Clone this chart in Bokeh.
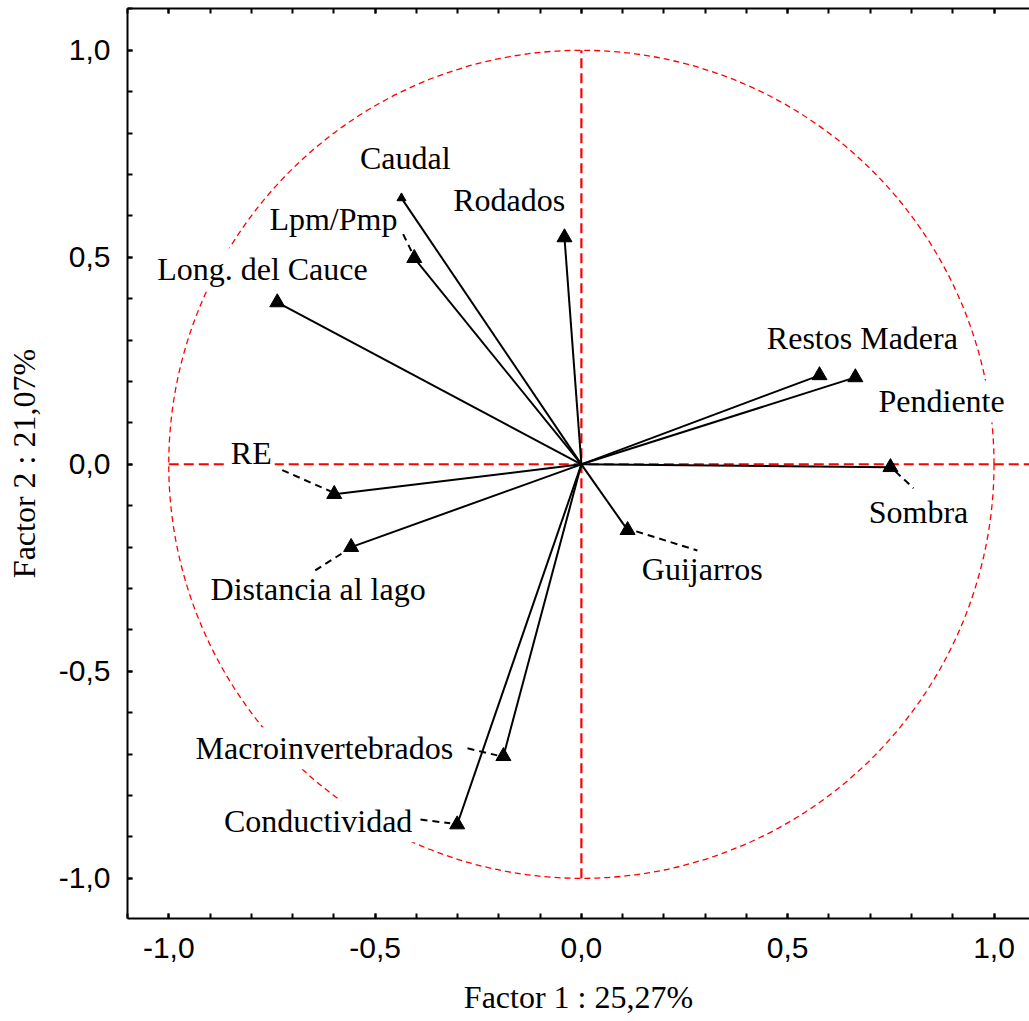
from bokeh.plotting import figure
from bokeh.models import (ColumnDataSource, LinearAxis, SingleIntervalTicker,
                          CustomJSTickFormatter, Range1d)
from bokeh.core.properties import value
from bokeh.embed import file_html
from bokeh.resources import INLINE

# Variable loadings on the first two factors
variables = ["Caudal", "Lpm/Pmp", "Rodados", "Long. del Cauce", "Restos Madera",
             "Pendiente", "Sombra", "Guijarros", "RE", "Distancia al lago",
             "Macroinvertebrados", "Conductividad"]
factor1 = [-0.436, -0.405, -0.041, -0.737, 0.577, 0.664, 0.749, 0.112,
           -0.599, -0.558, -0.189, -0.301]
factor2 = [0.643, 0.498, 0.548, 0.391, 0.215, 0.210, -0.007, -0.159,
           -0.072, -0.200, -0.705, -0.870]

x_title = "Factor 1 : 25,27%"
y_title = "Factor 2 : 21,07%"

# Label placement (data units) and leader lines for crowded labels
label_x = [-0.427, -0.601, -0.175, -0.773, 0.681, 0.873, 0.817, 0.293,
           -0.800, -0.638, -0.623, -0.638]
label_y = [0.739, 0.592, 0.638, 0.471, 0.304, 0.152, -0.114, -0.254,
           0.027, -0.302, -0.686, -0.862]
leaders = {
    "Lpm/Pmp": ((-0.432, 0.556), (-0.412, 0.515)),
    "RE": ((-0.725, -0.014), (-0.608, -0.065)),
    "Distancia al lago": ((-0.645, -0.256), (-0.572, -0.210)),
    "Sombra": ((0.761, -0.017), (0.805, -0.058)),
    "Guijarros": ((0.133, -0.162), (0.281, -0.208)),
    "Macroinvertebrados": ((-0.276, -0.686), (-0.204, -0.703)),
    "Conductividad": ((-0.390, -0.858), (-0.318, -0.867)),
}
marker_size = [9 if v == "Caudal" else 15 for v in variables]

RED = "#ff0000"
SERIF = "Liberation Serif"
SANS = "Liberation Sans"

p = figure(width=1029, height=1021, output_backend="svg", toolbar_location=None,
           x_range=Range1d(-1.10, 1.086), y_range=Range1d(-1.097, 1.101),
           x_axis_location=None, y_axis_location=None,
           min_border_left=127, min_border_right=0, min_border_top=8,
           min_border_bottom=103)
p.outline_line_color = None
p.grid.visible = False
p.background_fill_color = "white"

formatter = CustomJSTickFormatter(code="""
    if (Math.abs(tick) < 1e-9) { return "0,0"; }
    return tick.toFixed(1).replace('.', ',');
""")
blank = CustomJSTickFormatter(code="return '';")


def make_axis(fmt, title=None):
    ax = LinearAxis(ticker=SingleIntervalTicker(interval=0.5, num_minor_ticks=5),
                    formatter=fmt)
    ax.axis_line_width = 2
    ax.axis_line_color = "black"
    ax.major_tick_in = 5
    ax.major_tick_out = 0
    ax.minor_tick_in = 5
    ax.minor_tick_out = 0
    ax.major_tick_line_width = 2
    ax.minor_tick_line_width = 2
    ax.major_label_text_font = SANS
    ax.major_label_text_font_size = "30px"
    ax.major_label_text_color = "black"
    if title:
        ax.axis_label = title
        ax.axis_label_text_font = SERIF
        ax.axis_label_text_font_size = "32px"
        ax.axis_label_text_font_style = "normal"
        ax.axis_label_text_color = "black"
    return ax


bottom = make_axis(formatter, x_title)
bottom.major_label_standoff = 19
bottom.axis_label_standoff = 18
left = make_axis(formatter, y_title)
left.major_label_standoff = 17
left.axis_label_standoff = 14
top = make_axis(blank)
top.major_label_text_font_size = "0px"
top.major_label_standoff = 0
p.add_layout(bottom, "below")
p.add_layout(left, "left")
p.add_layout(top, "above")

# Unit circle and reference axes
p.ellipse(x=[0], y=[0], width=[2], height=[2], fill_color=None,
          line_color=RED, line_width=1.3, line_dash="6 4")
p.segment(x0=[-1.0], y0=[0], x1=[1.086], y1=[0], line_color=RED,
          line_width=2, line_dash="10 5")
p.segment(x0=[0], y0=[-1.0], x1=[0], y1=[1.0], line_color=RED,
          line_width=2.2, line_dash="10 5")

src = ColumnDataSource(dict(
    x0=[0.0] * len(variables), y0=[0.0] * len(variables),
    x=factor1, y=factor2, name=variables, lx=label_x, ly=label_y,
    size=marker_size))

# Variable labels with white boxes so they mask the dashed guides
p.text(x="lx", y="ly", text="name", source=src, text_font=value(SERIF),
       text_font_size="32px", text_color="black", text_align="center",
       text_baseline="middle", background_fill_color="white", padding=3)

# Leader lines from labels to their loadings
lx0 = [leaders[k][0][0] for k in leaders]
ly0 = [leaders[k][0][1] for k in leaders]
lx1 = [leaders[k][1][0] for k in leaders]
ly1 = [leaders[k][1][1] for k in leaders]
p.segment(x0=lx0, y0=ly0, x1=lx1, y1=ly1, line_color="black",
          line_width=2, line_dash="7 5")

# Loading vectors
p.segment(x0="x0", y0="y0", x1="x", y1="y", source=src, line_color="black",
          line_width=2)
p.scatter(x="x", y="y", source=src, marker="triangle", size="size",
          fill_color="black", line_color="black")

open("out.html", "w").write(file_html(p, INLINE))
